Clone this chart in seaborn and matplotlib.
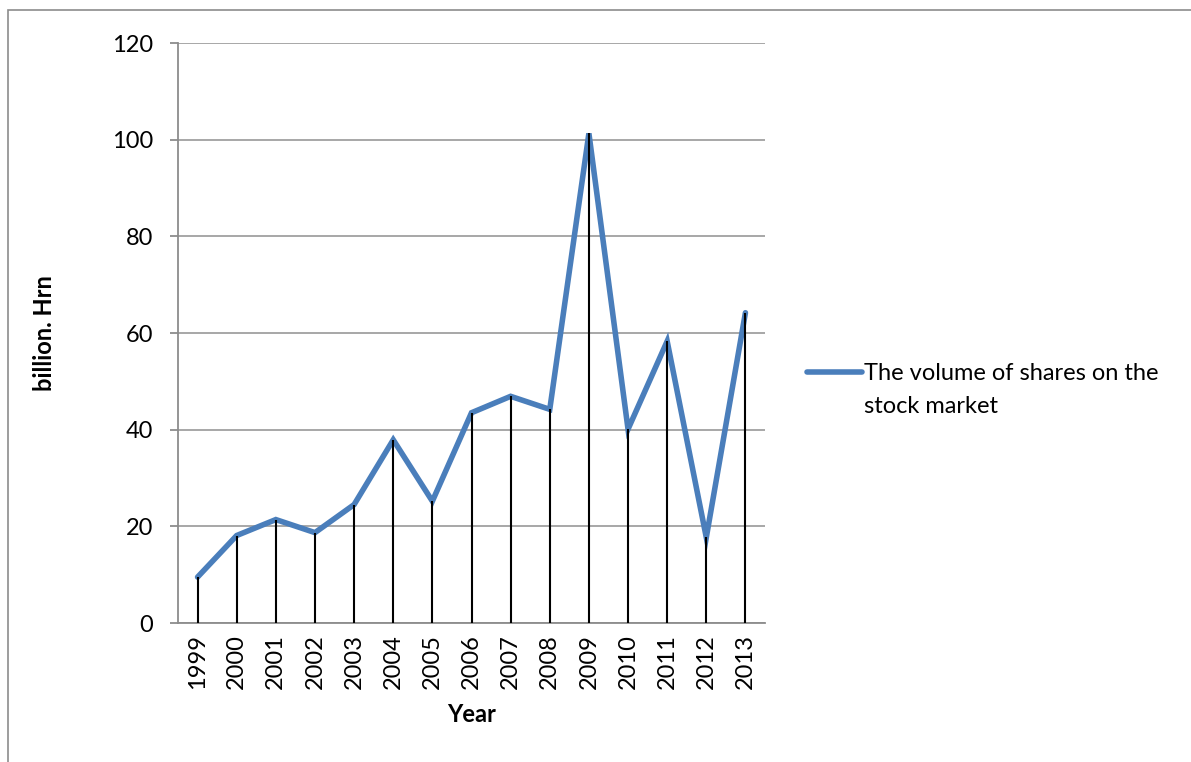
import numpy as np
import pandas as pd
import matplotlib.pyplot as plt
import seaborn as sns
from matplotlib.patches import Rectangle

sns.set_style("white")
plt.rcParams['font.family'] = ['Lato', 'DejaVu Sans']
plt.rcParams['text.color'] = 'black'
plt.rcParams['axes.labelcolor'] = 'black'
plt.rcParams['xtick.color'] = 'black'
plt.rcParams['ytick.color'] = 'black'

_fontsize = 17

years = [1999, 2000, 2001, 2002, 2003, 2004, 2005, 2006, 2007, 2008, 2009, 2010, 2011, 2012, 2013]
volume = [9.5, 18.1, 21.4, 18.7, 24.5, 37.9, 25.2, 43.5, 46.9, 44.2, 101.3, 40.1, 58.3, 17.7, 64.2]
series_name = "The volume of shares on the\nstock market"

df = pd.DataFrame({"Year": years, "volume": volume})

fig = plt.figure(figsize=(11.91, 7.62), dpi=100)
ax = fig.add_axes([178/1191, 1 - 623/762, (765-178)/1191, (623-43)/762])

# chart border
fig.patches.append(Rectangle((8/1191, -0.05), 1.2, 1.05 - 10/762,
                             transform=fig.transFigure, fill=False,
                             edgecolor="#8c8c8c", linewidth=1.2, zorder=0))

sns.lineplot(data=df, x="Year", y="volume", ax=ax, color="#4a7ebb",
             linewidth=4.0, label=series_name, zorder=3,
             solid_capstyle="round", solid_joinstyle="miter")

# drop lines
ax.vlines(df["Year"], 0, df["volume"], color="black", linewidth=1.5, zorder=4)

ax.set_xlim(years[0] - 0.5, years[-1] + 0.5)
ax.set_ylim(0, 120)
ax.set_yticks(np.arange(0, 121, 20))
ax.set_xticks(years)
ax.set_xticklabels([str(y) for y in years], rotation=90)
ax.yaxis.grid(True, color="#a0a0a0", linewidth=1.3)
ax.xaxis.grid(False)

for s in ["top", "right"]:
    ax.spines[s].set_visible(False)
for s in ["left", "bottom"]:
    ax.spines[s].set_color("#8c8c8c")
    ax.spines[s].set_linewidth(1.3)

ax.tick_params(axis="y", direction="out", length=6, color="#8c8c8c",
               width=1.3, labelsize=_fontsize, pad=12, left=True)
ax.tick_params(axis="x", length=0, labelsize=_fontsize, pad=8)

ax.set_xlabel("Year", fontsize=_fontsize, fontweight="bold", labelpad=10)
ax.set_ylabel("billion. Hrn", fontsize=_fontsize, fontweight="bold", labelpad=40)

leg = ax.legend(loc="center left", bbox_to_anchor=(786/1191, 1 - 390/762),
                bbox_transform=fig.transFigure, frameon=False,
                fontsize=_fontsize, handlelength=2.3, handletextpad=0.1)
for t in leg.get_texts():
    t.set_linespacing(1.75)
# put the legend line next to the first text line, like Excel does
hl = leg.get_lines()[0]
hl.set_ydata(np.asarray(hl.get_ydata()) + 13)
hl.set_solid_capstyle("round")

plt.savefig("out.png", dpi=100)
